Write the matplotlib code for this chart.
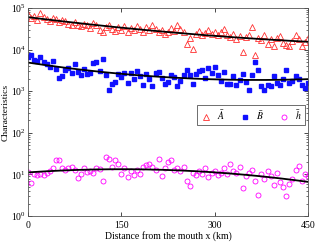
import numpy as np
import matplotlib
matplotlib.use("Agg")
import matplotlib.pyplot as plt
from matplotlib.ticker import LogLocator, NullFormatter

plt.rcParams['font.family'] = ['Liberation Serif', 'DejaVu Serif']
plt.rcParams['mathtext.fontset'] = 'stix'

# distance from the mouth (km)
distance = [0, 5, 10, 15, 20, 25, 30, 35, 40, 45, 50, 55, 60, 65, 70, 75, 80, 85, 90, 95,
            100, 105, 110, 115, 120, 125, 130, 135, 140, 145, 150, 155, 160, 165, 170, 175,
            180, 185, 190, 195, 200, 205, 210, 215, 220, 225, 230, 235, 240, 245, 250, 255,
            260, 265, 270, 275, 280, 285, 290, 295, 300, 305, 310, 315, 320, 325, 330, 335,
            340, 345, 350, 355, 360, 365, 370, 375, 380, 385, 390, 395, 400, 405, 410, 415,
            420, 425, 430, 435, 440, 445, 450]

# A (cross-section area)
A_vals = [72000, 56000, 64000, 52000, 75000, 60000, 54000, 50000, 57000, 53000,
          46000, 51000, 48000, 42000, 39000, 45000, 40000, 36000, 42000, 38000,
          33000, 44000, 38000, 30000, 26000, 35000, 40000, 32000, 28000, 35000,
          30000, 37000, 27000, 33000, 29000, 36000, 31000, 26000, 34000, 30000,
          38000, 32000, 27000, 30000, 24000, 26000, 33000, 28000, 38000, 31000,
          27000, 14000, 19000, 10500, 24000, 28000, 22000, 25000, 30000, 24000,
          27000, 22000, 26000, 31000, 23000, 20000, 24000, 18000, 21000, 8600,
          20000, 23000, 35000, 7500, 19000, 17000, 22000, 14000, 18000, 12500,
          19000, 21000, 14500, 13000, 12000, 16000, 22000, 18000, 12500, 15000, 19000]

# B (width)
B_vals = [6500, 7400, 5600, 5200, 6600, 5000, 4600, 3800, 5200, 3400,
          2100, 2300, 3300, 3600, 2800, 4600, 2900, 2500, 3400, 2600,
          2700, 4800, 5000, 3100, 6000, 2500, 1100, 1500, 1700, 2600,
          2200, 2800, 1600, 2700, 2000, 3000, 2300, 1400, 2600, 2000,
          1300, 2700, 2900, 2100, 1500, 1700, 2400, 2200, 1300, 1800,
          2500, 3200, 2400, 1500, 2600, 3000, 3300, 2100, 3600, 2800,
          3900, 2500, 1800, 2900, 1500, 1500, 2300, 1400, 1900, 2600,
          1700, 1100, 2400, 5100, 3200, 1300, 1100, 1400, 1300, 2300,
          1600, 1400, 2000, 3300, 1600, 1800, 2300, 2000, 1400, 1200, 1600]

# h (depth)
h_vals = [11.5, 6.3, 10, 9.5, 10.5, 9.8, 11, 12, 14, 22,
          22, 14, 12.5, 14, 15, 13, 8.3, 10.5, 14, 11.5,
          12, 11, 14, 13.5, 7, 26, 24, 15, 22, 18,
          10, 14, 8.7, 12, 9.5, 13, 10, 15, 17, 18,
          15, 13, 23, 9, 14, 20, 22, 13, 14, 12,
          15, 7, 5.2, 11, 9.5, 12, 10, 14, 8.5, 11,
          12, 9.5, 11, 14, 10, 17.5, 12, 11, 15, 4.8,
          9, 11, 13, 7, 3.3, 10, 8, 12, 9, 5.5,
          11, 6.5, 5, 3.0, 6, 8, 13, 16, 7, 10, 9]

x = np.array(distance, dtype=float)


def fit_curve(xv, yv, deg):
    # least squares fit in log space
    coef = np.polyfit(xv, np.log10(yv), deg)
    xs = np.linspace(xv.min(), xv.max(), 200)
    return xs, 10 ** np.polyval(coef, xs)


fig = plt.figure(figsize=(3.2, 2.42), dpi=100)
ax = fig.add_axes([0.0875, 0.107, 0.875, 0.86])

ax.plot(x, A_vals, '^', ms=3.8, mfc='none', mec='#ff3030', mew=0.6, label=r'$\bar{A}$')
ax.plot(x, B_vals, 's', ms=2.5, color='#1010ff', mec='#1010ff', label=r'$\bar{B}$')
ax.plot(x, h_vals, 'o', ms=3.6, mfc='none', mec='#ff00ff', mew=0.6, label=r'$\bar{h}$')

for vals, deg in [(A_vals, 2), (B_vals, 2), (h_vals, 2)]:
    xs, ys = fit_curve(x, np.array(vals, dtype=float), deg)
    ax.plot(xs, ys, color='black', lw=1.3)

ax.set_yscale('log')
ax.set_xlim(0, 450)
ax.set_ylim(1, 1e5)
ax.set_xticks([0, 150, 300, 450])
ax.yaxis.set_major_locator(LogLocator(base=10, numticks=10))
ax.yaxis.set_minor_locator(LogLocator(base=10, subs=np.arange(2, 10), numticks=10))
ax.yaxis.set_minor_formatter(NullFormatter())
ax.tick_params(which='both', direction='in', top=True, right=True, labelsize=7)
ax.tick_params(which='major', length=3, width=0.5)
ax.tick_params(axis='y', which='major', pad=1.5)
ax.tick_params(which='minor', length=1.5, width=0.4)
for s in ax.spines.values():
    s.set_linewidth(0.6)
    s.set_color('#555555')

ax.set_xlabel('Distance from the mouth x (km)', fontsize=7, labelpad=1)
ax.set_ylabel('Characteristics', fontsize=6.8)
ax.yaxis.set_label_coords(-0.064, 0.5)

leg = ax.legend(loc='upper right', bbox_to_anchor=(1.005, 0.555), ncol=3, fontsize=7,
                frameon=True, fancybox=False, edgecolor='black', handletextpad=0.5,
                columnspacing=1.5, borderpad=0.3, handlelength=1.2)
leg.get_frame().set_linewidth(0.5)

fig.savefig('out.png', dpi=100)
